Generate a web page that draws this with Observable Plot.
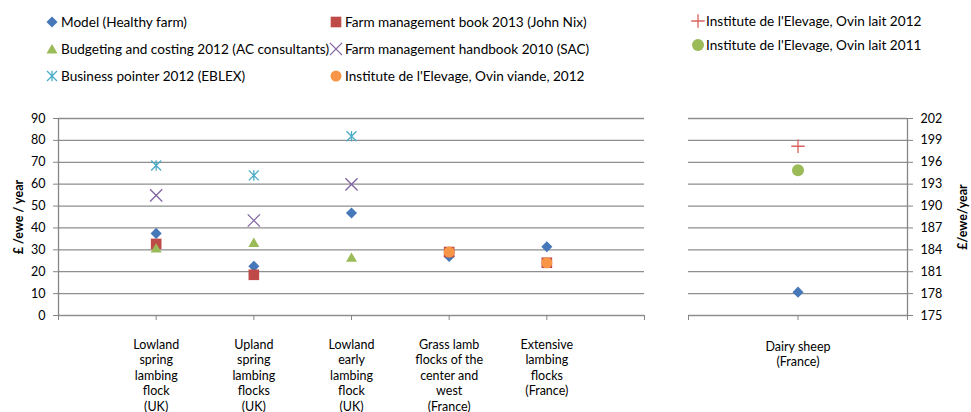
<!DOCTYPE html>
<html><head><meta charset="utf-8">
<script src="https://cdn.jsdelivr.net/npm/d3@7"></script>
<script src="https://cdn.jsdelivr.net/npm/@observablehq/plot@0.6"></script>
<style>
body{margin:0;background:#fff;font-family:Lato,sans-serif;}
#chart{position:relative;width:971px;height:412px;overflow:hidden;background:#fff;}
.leg{position:absolute;font-size:13.6px;white-space:nowrap;display:flex;align-items:center;height:20px;color:#000;}
.leg svg{position:absolute;}
.panel{position:absolute;top:100px;}
</style></head><body><div id="chart"></div>
<script>
// ---------- data ----------
const categories = [
  "Lowland\nspring\nlambing\nflock\n(UK)",
  "Upland\nspring\nlambing\nflocks\n(UK)",
  "Lowland\nearly\nlambing\nflock\n(UK)",
  "Grass lamb\nflocks of the\ncenter and\nwest\n(France)",
  "Extensive\nlambing\nflocks\n(France)"
];
const dairyCategories = ["Dairy sheep\n(France)"];

const modelHealthyFarm = [37.5, 22.5, 46.8, 27, 31.4];
const nixBook2013 = [32.7, 18.6, null, 29, 24.1];
const acConsultants2012 = [30.8, 33.4, 26.6, null, null];
const sacHandbook2010 = [54.9, 43.4, 59.9, null, null];
const eblexPointer2012 = [68.5, 64, 81.9, null, null];
const ovinViande2012 = [null, null, null, 29, 24.1];

const dairyModel = [178.2];
const ovinLait2012 = [198.2];
const ovinLait2011 = [194.9];

const leftTicks = [0, 10, 20, 30, 40, 50, 60, 70, 80, 90];
const rightTicks = [175, 178, 181, 184, 187, 190, 193, 196, 199, 202];
const leftAxisTitle = "£ /ewe / year";
const rightAxisTitle = "£/ewe/year";

const seriesNames = [
  "Model (Healthy farm)",
  "Farm management book 2013 (John Nix)",
  "Budgeting and costing 2012 (AC consultants)",
  "Farm management handbook 2010 (SAC)",
  "Business pointer 2012 (EBLEX)",
  "Institute de l'Elevage, Ovin viande, 2012",
  "Institute de l'Elevage, Ovin lait 2012",
  "Institute de l'Elevage, Ovin lait 2011"
];

// ---------- styles ----------
const star = {draw(ctx, size){ const r = Math.sqrt(size/Math.PI);
  ctx.moveTo(-r,-r); ctx.lineTo(r,r); ctx.moveTo(-r,r); ctx.lineTo(r,-r);
  ctx.moveTo(0,-r*1.05); ctx.lineTo(0,r*1.05); }};
const tri = {draw(ctx, size){ const r = Math.sqrt(size/Math.PI);
  ctx.moveTo(0,-0.98*r); ctx.lineTo(1.1*r,0.9*r); ctx.lineTo(-1.1*r,0.9*r); ctx.closePath(); }};

const styles = [
  {symbol:"diamond2", r:5, fill:"#4677b8", stroke:"none"},
  {symbol:"square", r:6, fill:"#be4b48", stroke:"none"},
  {symbol:tri, r:5, fill:"#9bbb59", stroke:"none"},
  {symbol:"times", r:5.6, fill:"none", stroke:"#8064a2", sw:1.3},
  {symbol:star, r:5, fill:"none", stroke:"#4bacc6", sw:1.3},
  {symbol:"circle", r:5.5, fill:"#f79646", stroke:"none"},
  {symbol:"plus", r:4.4, fill:"none", stroke:"#d9625f", sw:1.3},
  {symbol:"circle", r:6, fill:"#9bbb59", stroke:"none"}
];
const gridColor = "#8e8e8e", axisColor = "#868686";
const FONT = "Lato, sans-serif";

const leftSeries = [modelHealthyFarm, nixBook2013, acConsultants2012, sacHandbook2010, eblexPointer2012, ovinViande2012];
const rightSeries = [[dairyModel, 0], [ovinLait2012, 6], [ovinLait2011, 7]];

function dotMark(values, st) {
  const rows = values.map((v, i) => ({x: i + 1, y: v})).filter(d => d.y != null);
  return Plot.dot(rows, {x: "x", y: "y", symbol: st.symbol, r: st.r, fill: st.fill,
    stroke: st.stroke, strokeWidth: st.sw || 1});
}

const svgH = 312, mt = 18, mb = 97;
const baseStyle = {fontFamily: FONT, fontSize: "12px", color: "#000", background: "transparent", overflow: "visible"};

const left = Plot.plot({
  width: 660, height: svgH, marginLeft: 58, marginRight: 16, marginTop: mt, marginBottom: mb,
  x: {domain: [0, 6]}, y: {domain: [0, 90]},
  style: baseStyle,
  marks: [
    Plot.ruleY(leftTicks, {stroke: gridColor, strokeWidth: 1.3}),
    Plot.ruleX([0], {stroke: axisColor, strokeWidth: 1.3}),
    Plot.axisY({ticks: leftTicks, label: null, tickSize: 5, tickPadding: 8, stroke: axisColor, fill: "#000", fontSize: 12.5, tickFormat: d => d}),
    Plot.axisX({ticks: d3.range(0, 7), label: null, tickSize: 5, tickFormat: () => "", stroke: axisColor}),
    Plot.text(categories, {x: (d, i) => i + 1, text: d => d, frameAnchor: "bottom", lineAnchor: "top", dy: 22, fontSize: 12.5, lineHeight: 1.25, fill: "#000"}),
    Plot.text([leftAxisTitle], {frameAnchor: "left", textAnchor: "middle", dx: -40, rotate: -90, fontWeight: "bold", fontSize: 12.5, fill: "#000"}),
    ...leftSeries.map((s, k) => dotMark(s, styles[k]))
  ]
});
left.classList.add("panel"); left.style.left = "0px";

const right = Plot.plot({
  width: 311, height: svgH, marginLeft: 28, marginRight: 64, marginTop: mt, marginBottom: mb,
  x: {domain: [0, 2]}, y: {domain: [175, 202]},
  style: baseStyle,
  marks: [
    Plot.ruleY(rightTicks, {stroke: gridColor, strokeWidth: 1.3}),
    Plot.ruleX([2], {stroke: axisColor, strokeWidth: 1.3}),
    Plot.axisY({anchor: "right", label: null, ticks: rightTicks, tickSize: 5, tickPadding: 8, stroke: axisColor, fill: "#000", fontSize: 12.5, tickFormat: d => d}),
    Plot.axisX({ticks: [0, 1, 2], label: null, tickSize: 5, tickFormat: () => "", stroke: axisColor}),
    Plot.text(dairyCategories, {x: (d, i) => i + 1, text: d => d, frameAnchor: "bottom", lineAnchor: "top", dy: 24, fontSize: 12.5, lineHeight: 1.25, fill: "#000"}),
    Plot.text([rightAxisTitle], {frameAnchor: "right", textAnchor: "middle", dx: 55, rotate: -90, fontWeight: "bold", fontSize: 12.5, fill: "#000"}),
    ...rightSeries.map(([s, k]) => dotMark(s, styles[k]))
  ]
});
right.classList.add("panel"); right.style.left = "660px";

const chart = document.getElementById("chart");
chart.appendChild(left);
chart.appendChild(right);

// ---------- legend ----------
const legendPos = [[52, 22], [336, 22], [52, 49], [336, 49], [52, 76], [336, 76], [698, 21], [698, 45]];
const symMap = {diamond2: d3.symbolDiamond2, square: d3.symbolSquare, times: d3.symbolTimes, circle: d3.symbolCircle, plus: d3.symbolPlus};
seriesNames.forEach((name, k) => {
  const st = styles[k];
  const [cx, cy] = legendPos[k];
  const div = document.createElement("div");
  div.className = "leg";
  div.style.left = (cx - 8) + "px";
  div.style.top = (cy - 10) + "px";
  const type = typeof st.symbol === "string" ? symMap[st.symbol] : st.symbol;
  const path = d3.symbol(type, Math.PI * st.r * st.r)();
  div.innerHTML = `<svg width="16" height="16" style="left:0;top:2px;overflow:visible"><path transform="translate(8,8)" d="${path}" fill="${st.fill}" stroke="${st.stroke}" stroke-width="${st.sw || 1}"/></svg><span style="margin-left:${k >= 6 ? 16 : 17}px">${name}</span>`;
  chart.appendChild(div);
});
</script></body></html>
